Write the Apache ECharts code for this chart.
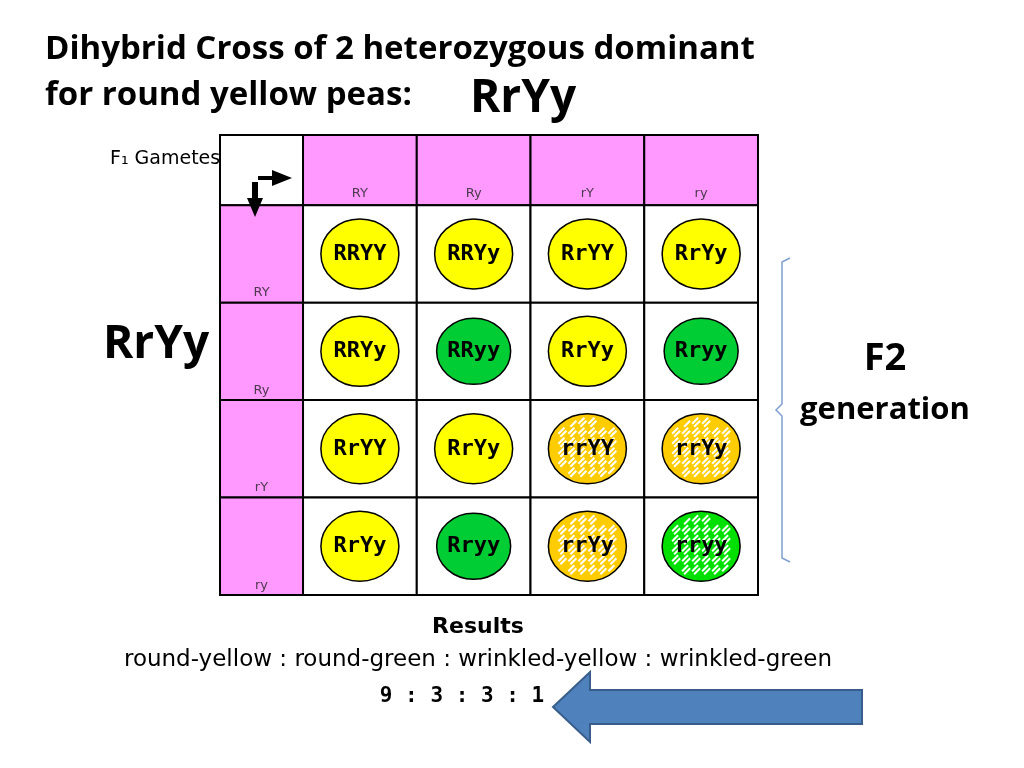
<!DOCTYPE html>
<html><head><meta charset="utf-8">
<script src="https://cdn.jsdelivr.net/npm/echarts@6/dist/echarts.min.js"></script>
<style>html,body{margin:0;background:#fff}#c{width:1024px;height:768px}</style>
</head><body><div id="c"></div>
<script>
// column / row edges of the square (header cell is narrower)
const colEdges = [0, 0.73, 1.73, 2.73, 3.73, 4.73];
const rowEdges = [0, 0.72, 1.72, 2.72, 3.72, 4.72];
const gametes = ['RY', 'Ry', 'rY', 'ry'];
// genotype, colour (y=yellow,g=green), wrinkled?
const offspring = [
  ['RRYY', 'y', 0], ['RRYy', 'y', 0], ['RrYY', 'y', 0], ['RrYy', 'y', 0],
  ['RRYy', 'y', 0], ['RRyy', 'g', 0], ['RrYy', 'y', 0], ['Rryy', 'g', 0],
  ['RrYY', 'y', 0], ['RrYy', 'y', 0], ['rrYY', 'y', 1], ['rrYy', 'y', 1],
  ['RrYy', 'y', 0], ['Rryy', 'g', 0], ['rrYy', 'y', 1], ['rryy', 'g', 1]
];
const results = ['round-yellow', 'round-green', 'wrinkled-yellow', 'wrinkled-green'];
const ratio = [9, 3, 3, 1];

const cells = [];
for (let r = 0; r < 5; r++)
  for (let c = 0; c < 5; c++)
    cells.push([colEdges[c], rowEdges[r], colEdges[c + 1], rowEdges[r + 1],
      (r === 0) !== (c === 0) ? 1 : 0]);

const mid = (e, i) => (e[i] + e[i + 1]) / 2;
const peas = offspring.map((o, i) => {
  const r = Math.floor(i / 4), c = i % 4;
  return [mid(colEdges, c + 1), mid(rowEdges, r + 1), o[1] === 'y' ? 1 : 0, o[2], o[0]];
});
const headLabels = [];
gametes.forEach((g, i) => {
  headLabels.push({ value: [mid(colEdges, i + 1), 0.6], name: g });
  headLabels.push({ value: [0.365, rowEdges[i + 2] - 0.1], name: g });
});

function renderPea(p, api) {
  const ctr = api.coord([api.value(0), api.value(1)]);
  const yellow = api.value(2), wr = api.value(3);
  const rx = yellow || wr ? 39 : 37, ry = yellow || wr ? 35 : 33;
  const fill = wr ? (yellow ? '#ffcc00' : '#00e000') : (yellow ? '#ffff00' : '#00cc33');
  const kids = [{ type: 'ellipse', shape: { cx: ctr[0], cy: ctr[1], rx, ry }, style: { fill, stroke: '#000', lineWidth: 1.5 } }];
  if (wr) {
    // basket-weave strokes kept inside the pea
    const inside = (x, y) => ((x - ctr[0]) / (rx - 3)) ** 2 + ((y - ctr[1]) / (ry - 3)) ** 2 <= 1;
    for (let gx = -rx; gx < rx; gx += 10)
      for (let gy = -ry; gy < ry; gy += 10) {
        const odd = ((gx + gy) / 10) % 2 !== 0;
        const x = ctr[0] + gx, y = ctr[1] + gy;
        const segs = odd ? [[x, y, x + 6, y - 6], [x + 2, y + 3, x + 8, y - 3]]
                         : [[x, y - 6, x + 6, y], [x - 2, y - 3, x + 4, y + 3]];
        segs.forEach(s => {
          if (inside(s[0], s[1]) && inside(s[2], s[3]))
            kids.push({ type: 'line', shape: { x1: s[0], y1: s[1], x2: s[2], y2: s[3] }, style: { stroke: '#fff', lineWidth: 2 } });
        });
      }
  }
  kids.push({ type: 'text', x: ctr[0], y: ctr[1], style: { text: api.value(4), font: 'bold 22px "DejaVu Sans Mono"', fill: '#000', align: 'center', verticalAlign: 'middle' } });
  return { type: 'group', children: kids };
}

const chart = echarts.init(document.getElementById('c'));
chart.setOption({
  animation: false,
  grid: { left: 220, top: 135, width: 538, height: 460 },
  xAxis: { type: 'value', min: 0, max: 4.73, show: false },
  yAxis: { type: 'value', min: 0, max: 4.72, inverse: true, show: false },
  series: [
    {
      type: 'custom', data: cells, z: 1,
      renderItem: (p, api) => {
        const a = api.coord([api.value(0), api.value(1)]);
        const b = api.coord([api.value(2), api.value(3)]);
        return { type: 'rect', shape: { x: a[0], y: a[1], width: b[0] - a[0], height: b[1] - a[1] },
          style: { fill: api.value(4) ? '#ff99ff' : '#fff', stroke: '#000', lineWidth: 2 } };
      }
    },
    { type: 'custom', data: peas, z: 3, renderItem: renderPea,
      dimensions: ['x', 'y', 'yellow', 'wrinkled', { name: 'g', type: 'ordinal' }] },
    {
      type: 'scatter', data: headLabels, symbolSize: 0, z: 3,
      label: { show: true, position: 'inside', formatter: '{b}', color: '#222',
        fontFamily: 'DejaVu Sans', fontSize: 13 }
    }
  ],
  graphic: [
    { type: 'text', z: 100, left: 45, top: 27, style: { text: 'Dihybrid Cross of 2 heterozygous dominant\nfor round yellow peas:', font: 'bold 33px "Open Sans"', lineHeight: 46, fill: '#000' } },
    { type: 'text', z: 100, left: 470, top: 76, style: { text: 'RrYy', font: 'bold 46px "Open Sans"', fill: '#000' } },
    { type: 'text', z: 100, left: 103, top: 322, style: { text: 'RrYy', font: 'bold 46px "Open Sans"', fill: '#000' } },
    { type: 'text', z: 100, left: 110, top: 150, style: { text: 'F\u2081 Gametes', font: '19px "DejaVu Sans"', fill: '#000' } },
    { type: 'polygon', z: 100, shape: { points: [[258, 176], [272, 176], [272, 170], [292, 178], [272, 186], [272, 180], [258, 180]] }, style: { fill: '#000' } },
    { type: 'polygon', z: 100, shape: { points: [[252, 182], [258, 182], [258, 198], [263, 198], [255, 217], [247, 198], [252, 198]] }, style: { fill: '#000' } },
    { type: 'polyline', z: 100, shape: { points: [[790, 258], [782, 262], [782, 404], [776, 410], [782, 416], [782, 558], [790, 562]] }, style: { stroke: '#7fa0d0', lineWidth: 1.5, fill: null } },
    { type: 'text', z: 100, x: 885, y: 340, style: { text: 'F2', font: 'bold 38px "Open Sans"', fill: '#000', align: 'center' } },
    { type: 'text', z: 100, x: 885, y: 395, style: { text: 'generation', font: 'bold 31px "Open Sans"', fill: '#000', align: 'center' } },
    { type: 'text', z: 100, x: 478, y: 616, style: { text: 'Results', font: 'bold 22px "DejaVu Sans"', fill: '#000', align: 'center' } },
    { type: 'text', z: 100, x: 478, y: 649, style: { text: results.join(' : '), font: '23px "DejaVu Sans"', fill: '#000', align: 'center' } },
    { type: 'text', z: 100, x: 462, y: 686, style: { text: ratio.join(' : '), font: 'bold 21px "DejaVu Sans Mono"', fill: '#000', align: 'center' } },
    { type: 'polygon', z: 100, shape: { points: [[553, 707], [590, 672], [590, 690], [862, 690], [862, 724], [590, 724], [590, 742]] }, style: { fill: '#4f81bd', stroke: '#385d8a', lineWidth: 2 } }
  ]
});
</script></body></html>
